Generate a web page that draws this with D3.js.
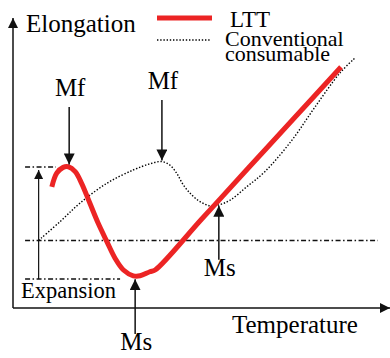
<!DOCTYPE html>
<html>
<head>
  <meta charset="utf-8" />
  <script src="https://d3js.org/d3.v7.min.js"></script>
  <style>
    body, html { margin: 0; background: white; }
    svg { display: block; }
  </style>
</head>
<body>
<svg id="chart" width="390" height="358"></svg>
<script>
// LTT curve (temperature, elongation), arbitrary units 0-100
var lttTemp  = [10.3, 11.6, 13.3, 14.7, 16.5, 18.2, 20.4, 22.6, 24.9, 27.1, 29.3, 31.9, 33.7, 36.3, 37.7, 50.0, 62.3, 74.6, 87.0];
var lttElong = [41.8, 46.5, 48.5, 48.7, 47.0, 43.0, 36.1, 29.2, 22.9, 17.1, 13.1, 11.1, 11.1, 12.5, 13.1, 30.6, 48.1, 65.5, 83.1];

// conventional consumable curve
var convTemp  = [6.8, 12.5, 17.8, 24.9, 31.9, 36.3, 39.4, 41.6, 43.4, 45.2, 47.4, 49.6, 52.3, 54.5, 57.6, 62.0, 66.8, 74.0, 80.1, 86.7, 90.7];
var convElong = [23.3, 29.8, 36.2, 43.0, 47.6, 49.7, 50.5, 49.3, 46.5, 42.4, 39.0, 36.7, 35.2, 35.5, 37.2, 41.8, 47.0, 57.9, 69.3, 81.0, 86.2];

// dash-dot reference levels
var refLevel = [23.3, 48.6, 10.0];
var refFrom  = [3.2, 3.2, 3.2];
var refTo    = [96.8, 11.4, 28.4];

// transformation point arrows
var arrowLabel = ["Mf", "Mf", "Ms", "Ms"];
var arrowTemp  = [14.9, 39.5, 54.6, 32.4];
var arrowFrom  = [69.3, 71.7, 16.6, -9.0];
var arrowTo    = [49.5, 50.9, 35.3, 9.9];

var serif = "'Liberation Serif', 'Times New Roman', Times, 'DejaVu Serif', serif";

var svg = d3.select("#chart").attr("font-family", serif);

var x = d3.scaleLinear().domain([0, 100]).range([13, 390]);
var y = d3.scaleLinear().domain([0, 100]).range([308, 18]);

var defs = svg.append("defs");
function marker(id, w, h) {
  defs.append("marker")
    .attr("id", id)
    .attr("viewBox", "0 0 10 10")
    .attr("refX", 10).attr("refY", 5)
    .attr("markerUnits", "userSpaceOnUse")
    .attr("markerWidth", w).attr("markerHeight", h)
    .attr("orient", "auto")
    .append("path").attr("d", "M0,0L10,5L0,10Z").attr("fill", "#111");
}
marker("head", 11, 11);
marker("axhead", 12, 10);
marker("small", 9, 9);

// axes
svg.append("line")
  .attr("x1", x(0)).attr("y1", y(0)).attr("x2", x(0)).attr("y2", y(100))
  .attr("stroke", "#111").attr("stroke-width", 1.5).attr("marker-end", "url(#axhead)");
svg.append("line")
  .attr("x1", x(0)).attr("y1", y(0)).attr("x2", x(100)).attr("y2", y(0))
  .attr("stroke", "#111").attr("stroke-width", 1.5).attr("marker-end", "url(#axhead)");

// dash-dot levels
svg.selectAll(".ref").data(refLevel).enter().append("line")
  .attr("class", "ref")
  .attr("x1", function(d, i) { return x(refFrom[i]); })
  .attr("x2", function(d, i) { return x(refTo[i]); })
  .attr("y1", function(d) { return y(d); })
  .attr("y2", function(d) { return y(d); })
  .attr("stroke", "#111").attr("stroke-width", 1.5)
  .attr("stroke-dasharray", "5,2.5,1.5,2.5");

var line = d3.line()
  .x(function(d) { return x(d[0]); })
  .y(function(d) { return y(d[1]); })
  .curve(d3.curveCatmullRom.alpha(0.5));

// conventional (dotted)
svg.append("path")
  .datum(d3.zip(convTemp, convElong))
  .attr("d", line)
  .attr("fill", "none").attr("stroke", "#000").attr("stroke-width", 1.4)
  .attr("stroke-dasharray", "1.4,1.8");

// LTT (red)
svg.append("path")
  .datum(d3.zip(lttTemp, lttElong))
  .attr("d", line)
  .attr("fill", "none").attr("stroke", "#ec2424").attr("stroke-width", 5);

// expansion arrow
svg.append("line")
  .attr("x1", x(6.8)).attr("y1", y(refLevel[2]))
  .attr("x2", x(6.8)).attr("y2", y(47.6))
  .attr("stroke", "#111").attr("stroke-width", 1.2).attr("marker-end", "url(#small)");
svg.append("text")
  .attr("x", x(2.1)).attr("y", y(3.4))
  .attr("font-size", 22.5).text("Expansion");

// Mf / Ms arrows
var arr = svg.selectAll(".arr").data(arrowLabel).enter().append("g").attr("class", "arr");
arr.append("line")
  .attr("x1", function(d, i) { return x(arrowTemp[i]); })
  .attr("x2", function(d, i) { return x(arrowTemp[i]); })
  .attr("y1", function(d, i) { return y(arrowFrom[i]); })
  .attr("y2", function(d, i) { return y(arrowTo[i]); })
  .attr("stroke", "#111").attr("stroke-width", 1.5).attr("marker-end", "url(#head)");
arr.append("text")
  .attr("x", function(d, i) { return x(arrowTemp[i]) + 1; })
  .attr("y", function(d, i) {
    var down = arrowFrom[i] > arrowTo[i];
    return y(arrowFrom[i]) + (down ? -11 : 16);
  })
  .attr("text-anchor", "middle").attr("font-size", 25)
  .text(function(d) { return d; });

// axis titles
svg.append("text").attr("x", 26).attr("y", 32).attr("font-size", 25).text("Elongation");
svg.append("text").attr("x", 232).attr("y", 333).attr("font-size", 25).text("Temperature");

// legend
svg.append("line").attr("x1", 157).attr("x2", 212).attr("y1", 18).attr("y2", 18)
  .attr("stroke", "#ec2424").attr("stroke-width", 5);
svg.append("line").attr("x1", 157).attr("x2", 210).attr("y1", 40).attr("y2", 40)
  .attr("stroke", "#000").attr("stroke-width", 1.4).attr("stroke-dasharray", "1.4,1.8");
svg.append("text").attr("x", 230).attr("y", 27).attr("font-size", 23).text("LTT");
svg.append("text").attr("x", 225).attr("y", 46).attr("font-size", 22).text("Conventional");
svg.append("text").attr("x", 225).attr("y", 61).attr("font-size", 22).text("consumable");
</script>
</body>
</html>
